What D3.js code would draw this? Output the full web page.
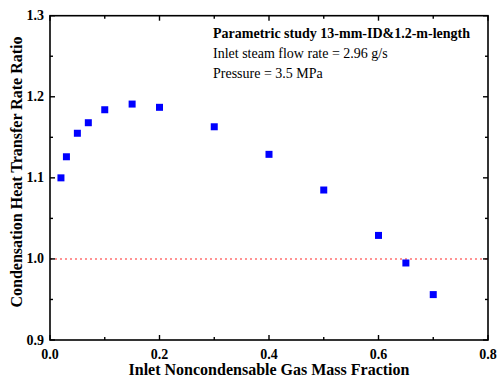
<!DOCTYPE html>
<html><head><meta charset="utf-8">
<script src="https://cdnjs.cloudflare.com/ajax/libs/d3/7.8.5/d3.min.js"></script>
<style>body{margin:0;background:#fff}svg{display:block}</style>
</head><body><svg id="c" width="497" height="379"></svg>
<script>
const xValues = [0.02, 0.03, 0.05, 0.07, 0.10, 0.15, 0.20, 0.30, 0.40, 0.50, 0.60, 0.65, 0.70];
const yValues = [1.100, 1.126, 1.155, 1.168, 1.184, 1.191, 1.187, 1.163, 1.129, 1.085, 1.029, 0.995, 0.956];
const xTicks = [0.0, 0.2, 0.4, 0.6, 0.8];
const yTicks = [0.9, 1.0, 1.1, 1.2, 1.3];
const xMinor = [0.1, 0.3, 0.5, 0.7];
const yMinor = [0.95, 1.05, 1.15, 1.25];
const refValue = 1.0;
const annot = ["Parametric study 13-mm-ID&1.2-m-length", "Inlet steam flow rate = 2.96 g/s", "Pressure = 3.5 MPa"];

const svg = d3.select("#c");
const L = 50, R = 488, T = 15.7, B = 340;
const x = d3.scaleLinear().domain([0, 0.8]).range([L, R]);
const y = d3.scaleLinear().domain([0.9, 1.3]).range([B, T]);
const font = "'Liberation Serif','Times New Roman',serif";

// reference line
svg.append("line").attr("x1", L).attr("x2", R).attr("y1", y(refValue)).attr("y2", y(refValue))
  .attr("stroke", "#ff7070").attr("stroke-width", 1.5).attr("stroke-dasharray", "2,3");

// frame
svg.append("rect").attr("x", L).attr("y", T).attr("width", R - L).attr("height", B - T)
  .attr("fill", "none").attr("stroke", "#000").attr("stroke-width", 1.6);

const tk = svg.append("g").attr("stroke", "#000").attr("stroke-width", 1.4);
xTicks.forEach(v => {
  tk.append("line").attr("x1", x(v)).attr("x2", x(v)).attr("y1", B).attr("y2", B - 5);
  tk.append("line").attr("x1", x(v)).attr("x2", x(v)).attr("y1", T).attr("y2", T + 5);
});
xMinor.forEach(v => {
  tk.append("line").attr("x1", x(v)).attr("x2", x(v)).attr("y1", B).attr("y2", B - 3);
  tk.append("line").attr("x1", x(v)).attr("x2", x(v)).attr("y1", T).attr("y2", T + 3);
});
yTicks.forEach(v => {
  tk.append("line").attr("y1", y(v)).attr("y2", y(v)).attr("x1", L).attr("x2", L + 5);
  tk.append("line").attr("y1", y(v)).attr("y2", y(v)).attr("x1", R).attr("x2", R - 5);
});
yMinor.forEach(v => {
  tk.append("line").attr("y1", y(v)).attr("y2", y(v)).attr("x1", L).attr("x2", L + 3);
  tk.append("line").attr("y1", y(v)).attr("y2", y(v)).attr("x1", R).attr("x2", R - 3);
});

// tick labels
svg.append("g").selectAll("text").data(xTicks).join("text")
  .attr("x", d => x(d)).attr("y", B + 18.5).attr("text-anchor", "middle")
  .attr("font-family", font).attr("font-weight", "bold").attr("font-size", 14)
  .text(d => d.toFixed(1));
svg.append("g").selectAll("text").data(yTicks).join("text")
  .attr("x", L - 6).attr("y", d => y(d) + 4.5).attr("text-anchor", "end")
  .attr("font-family", font).attr("font-weight", "bold").attr("font-size", 14)
  .text(d => d.toFixed(1));

// axis titles
svg.append("text").attr("x", (L + R) / 2).attr("y", 375).attr("text-anchor", "middle")
  .attr("font-family", font).attr("font-weight", "bold").attr("font-size", 16)
  .text("Inlet Noncondensable Gas Mass Fraction");
svg.append("text").attr("transform", "translate(22,172) rotate(-90)").attr("text-anchor", "middle")
  .attr("font-family", font).attr("font-weight", "bold").attr("font-size", 16)
  .text("Condensation Heat Transfer Rate Ratio");

// markers
svg.append("g").selectAll("rect").data(xValues.map((v, i) => [v, yValues[i]])).join("rect")
  .attr("x", d => x(d[0]) - 3.5).attr("y", d => y(d[1]) - 3.5).attr("width", 7).attr("height", 7)
  .attr("fill", "#0000ff");

// annotation
annot.forEach((s, i) => {
  svg.append("text").attr("x", 213).attr("y", 37.5 + i * 20)
    .attr("font-family", font).attr("font-size", 14).attr("font-weight", i === 0 ? "bold" : "normal")
    .text(s);
});
</script></body></html>
